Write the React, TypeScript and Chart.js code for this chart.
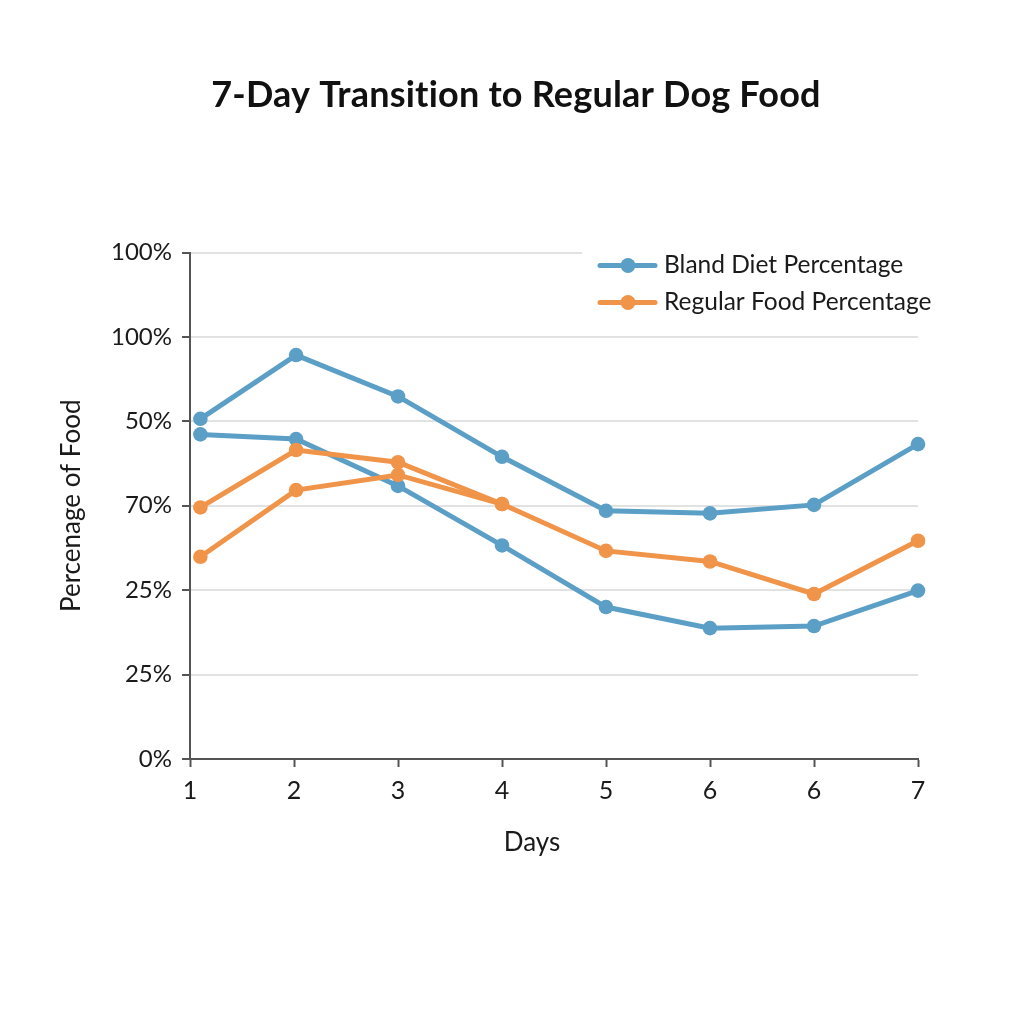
import React, { useEffect, useRef } from "react";
import { Chart, registerables } from "chart.js";

Chart.register(...registerables);

// ---- data ----
const dayLabels = ["1", "2", "3", "4", "5", "6", "6", "7"];
const dayPositions = [1.1, 2.02, 3, 4, 5, 6, 7, 8];
const yTickLabels = ["0%", "25%", "25%", "70%", "50%", "100%", "100%"];
const blandDietUpper = [80.6, 95.7, 85.9, 71.6, 58.8, 58.2, 60.2, 74.6];
const blandDietLower = [76.9, 75.8, 64.7, 50.6, 36.0, 31.0, 31.5, 39.9];
const regularFoodUpper = [59.6, 73.2, 70.3, 60.4, 49.3, 46.8, 39.1, 51.7];
const regularFoodLower = [47.9, 63.7, 67.3, 60.4];
const legendLabels = ["Bland Diet Percentage", "Regular Food Percentage"];
const chartTitle = "7-Day Transition to Regular Dog Food";
const xAxisTitle = "Days";
const yAxisTitle = "Percenage of Food";

const BLUE = "#5b9fc6";
const ORANGE = "#f0944a";
const TEXT = "#1a1a1a";
const AXIS = "#555555";
const GRID = "#e2e2e2";
const FONT = "Lato, 'DejaVu Sans', sans-serif";

const toPoints = (vals: number[]) =>
  vals.map((v, i) => ({ x: dayPositions[i], y: v }));

const overlayPlugin = {
  id: "overlay",
  afterDraw(chart: any) {
    const ctx = chart.ctx as any;
    const a = chart.chartArea;
    ctx.save();
    // title
    ctx.fillStyle = "#111111";
    ctx.textAlign = "center";
    ctx.textBaseline = "middle";
    ctx.font = `bold 36px ${FONT}`;
    try { ctx.letterSpacing = "0.2px"; } catch (e) {}
    ctx.fillText(chartTitle, 516, 95);
    try { ctx.letterSpacing = "0px"; } catch (e) {}
    // x axis title
    ctx.fillStyle = TEXT;
    ctx.font = `26px ${FONT}`;
    ctx.fillText(xAxisTitle, 532, 843);
    // legend box
    ctx.fillStyle = "#ffffff";
    ctx.fillRect(a.right - 336, a.top - 8, 350, 78);
    const colors = [BLUE, ORANGE];
    legendLabels.forEach((label, i) => {
      const y = a.top + 13 + i * 37;
      ctx.strokeStyle = colors[i];
      ctx.lineWidth = 5;
      ctx.lineCap = "round";
      ctx.beginPath();
      ctx.moveTo(a.right - 318, y);
      ctx.lineTo(a.right - 263, y);
      ctx.stroke();
      ctx.fillStyle = colors[i];
      ctx.beginPath();
      ctx.arc(a.right - 290, y, 7.5, 0, Math.PI * 2);
      ctx.fill();
      ctx.fillStyle = TEXT;
      ctx.textAlign = "left";
      ctx.textBaseline = "middle";
      ctx.font = `24.5px ${FONT}`;
      ctx.fillText(label, a.right - 254, y);
    });
    ctx.restore();
  },
};

export default function App() {
  const ref = useRef<HTMLCanvasElement | null>(null);

  useEffect(() => {
    document.body.style.margin = "0";
    const canvas = ref.current;
    if (!canvas) return;
    const lineStyle = (color: string, order: number) => ({
      borderColor: color,
      backgroundColor: color,
      borderWidth: 5,
      pointRadius: 7.3,
      pointBorderWidth: 0,
      pointBackgroundColor: color,
      tension: 0,
      clip: false as any,
      order,
    });
    const chart = new Chart(canvas, {
      type: "line",
      data: {
        datasets: [
          { label: legendLabels[0], data: toPoints(blandDietUpper), ...lineStyle(BLUE, 2) },
          { label: legendLabels[0], data: toPoints(blandDietLower), ...lineStyle(BLUE, 2) },
          { label: legendLabels[1], data: toPoints(regularFoodUpper), ...lineStyle(ORANGE, 1) },
          { label: legendLabels[1], data: toPoints(regularFoodLower), ...lineStyle(ORANGE, 1) },
        ],
      },
      options: {
        responsive: false,
        animation: false,
        devicePixelRatio: 1,
        layout: { padding: { top: 252.5, right: 106, bottom: 0, left: 0 } },
        plugins: {
          legend: { display: false },
          tooltip: { enabled: false },
          title: { display: false },
        },
        scales: {
          x: {
            type: "linear",
            min: 1,
            max: 8,
            afterFit: (s: any) => {
              s.height = 265;
              s.paddingLeft = 0;
              s.paddingRight = 0;
            },
            ticks: {
              stepSize: 1,
              padding: 9,
              color: TEXT,
              font: { family: FONT, size: 25 },
              callback: (v: any) => dayLabels[Math.round(Number(v)) - 1] ?? "",
            },
            grid: {
              drawOnChartArea: false,
              drawTicks: true,
              tickLength: 8,
              tickColor: AXIS,
              tickWidth: 2,
            },
            border: { display: true, color: AXIS, width: 2 },
          },
          y: {
            type: "linear",
            min: 0,
            max: 120,
            afterFit: (s: any) => {
              s.width = 190;
              s.paddingTop = 0;
              s.paddingBottom = 0;
            },
            ticks: {
              stepSize: 20,
              padding: 10,
              color: TEXT,
              font: { family: FONT, size: 24 },
              callback: (_v: any, i: number) => yTickLabels[i] ?? "",
            },
            grid: {
              color: GRID,
              lineWidth: 2,
              drawTicks: true,
              tickLength: 8,
              tickColor: AXIS,
              tickWidth: 2,
            },
            border: { display: true, color: AXIS, width: 2 },
            title: {
              display: true,
              text: yAxisTitle,
              color: TEXT,
              font: { family: FONT, size: 26 },
              padding: { top: 56, bottom: 0 },
            },
          },
        },
      },
      plugins: [overlayPlugin],
    } as any);
    return () => chart.destroy();
  }, []);

  return (
    <div style={{ position: "absolute", left: 0, top: 0, width: 1024, height: 1024, background: "#fff" }}>
      <canvas ref={ref} width={1024} height={1024} style={{ display: "block" }} />
    </div>
  );
}
